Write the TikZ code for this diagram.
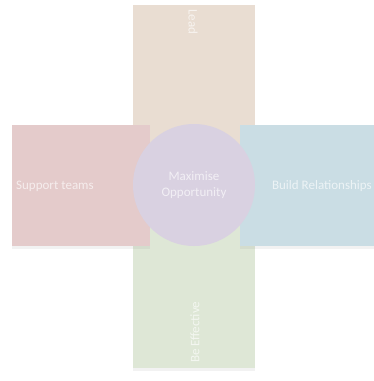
\documentclass[tikz,border=0pt]{standalone}
\usepackage{fontspec}
\setmainfont{Carlito}
\usetikzlibrary{shadows}
\definecolor{cTop}{HTML}{E9DDD2}
\definecolor{cLeft}{HTML}{E4CBCB}
\definecolor{cRight}{HTML}{CADDE4}
\definecolor{cBot}{HTML}{DEE7D6}
\definecolor{cMid}{HTML}{D9D1E1}
\tikzset{
  arm/.style={draw=none, rectangle, inner sep=0pt, drop shadow={opacity=0.10, shadow xshift=0pt, shadow yshift=-3pt}},
  hub/.style={draw=none, circle, inner sep=0pt, minimum size=122pt, fill=cMid},
  lbl/.style={text=white, text opacity=0.65, font=\fontsize{13}{15.5}\selectfont, inner sep=0pt, align=center}
}
\begin{document}
\begin{tikzpicture}[x=1pt,y=-1pt]
\useasboundingbox (0,0) rectangle (374,381);
\fill[white] (0,0) rectangle (374,381);
\begin{scope}
\clip (0,0) rectangle (374,381);
\node[arm, fill=cTop, minimum width=122pt, minimum height=140pt] (top) at (194,75) {};
\node[arm, fill=cBot, minimum width=122pt, minimum height=144pt] (bot) at (194,296) {};
\node[arm, fill=cLeft, minimum width=138pt, minimum height=121pt] (left) at (81,185.5) {};
\node[arm, fill=cRight, minimum width=140pt, minimum height=121pt] (right) at (310,185.5) {};
\node[hub] (mid) at (194,185) {};
\end{scope}
\node[lbl, rotate=-90, anchor=west] (tlead) at (193,9) {Lead};
\node[lbl, rotate=90, anchor=west] (teff) at (195,363) {Be Effective};
\node[lbl, anchor=west] (tsup) at (16,186) {Support teams};
\node[lbl, anchor=east] (tbuild) at (372,186) {Build Relationships};
\node[lbl] (tmid) at (194,185) {Maximise\\Opportunity};
\end{tikzpicture}
\end{document}
